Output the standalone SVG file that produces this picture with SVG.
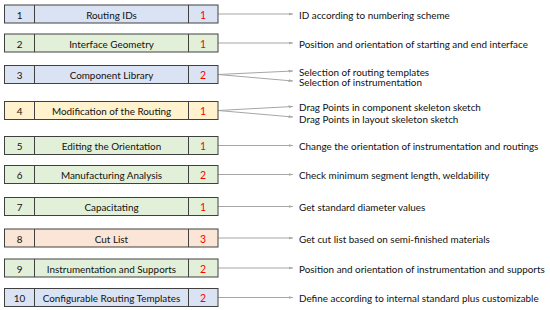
<svg xmlns="http://www.w3.org/2000/svg" width="550" height="310" viewBox="0 0 550 310">
<style>
.bx{stroke:#404040;stroke-width:1}
.blue{fill:#dae3f3}.green{fill:#e2f0d9}.yellow{fill:#fff2cc}.orange{fill:#fbe5d6}
.t{font-family:Lato,"Open Sans",sans-serif;font-size:9.9px;fill:#111;text-anchor:middle;dominant-baseline:central}
.n{font-family:Lato,"Open Sans",sans-serif;font-size:10.5px;fill:#ff0000;text-anchor:middle;dominant-baseline:central}
.d{font-family:Lato,"Open Sans",sans-serif;font-size:9.9px;fill:#111;dominant-baseline:central}
.c{stroke:#a6a6a6;stroke-width:1;fill:none;marker-end:url(#ah)}
</style>
<defs>
<marker id="ah" markerWidth="5" markerHeight="4" refX="4.5" refY="2" orient="auto" markerUnits="userSpaceOnUse">
<path d="M0,0.5 L4.5,2 L0,3.5 Z" fill="#a6a6a6"/>
</marker>
</defs>
<g id="connectors">
<line class="c" x1="218" y1="14" x2="293" y2="14"/>
<line class="c" x1="218" y1="43" x2="293" y2="43"/>
<line class="c" x1="218" y1="74.5" x2="293" y2="71"/>
<line class="c" x1="218" y1="74.5" x2="293" y2="81"/>
<line class="c" x1="218" y1="110.5" x2="293" y2="106.5"/>
<line class="c" x1="218" y1="110.5" x2="293" y2="117"/>
<line class="c" x1="218" y1="145.5" x2="293" y2="145.5"/>
<line class="c" x1="218" y1="174.5" x2="293" y2="174.5"/>
<line class="c" x1="218" y1="206.5" x2="293" y2="206.5"/>
<line class="c" x1="218" y1="238" x2="293" y2="238"/>
<line class="c" x1="218" y1="268" x2="293" y2="268"/>
<line class="c" x1="218" y1="297.5" x2="293" y2="297.5"/>
</g>
<g id="node1">
<rect class="bx blue" x="4.5" y="5" width="213.5" height="18"/>
<line class="bx" x1="34.5" y1="5" x2="34.5" y2="23"/><line class="bx" x1="188.5" y1="5" x2="188.5" y2="23"/>
<text class="t" x="19.5" y="14.5">1</text><text class="t" x="111.5" y="14.5">Routing IDs</text><text class="n" x="203" y="14.5">1</text>
<text class="d" x="299" y="14.5">ID according to numbering scheme</text>
</g>
<g id="node2">
<rect class="bx green" x="4.5" y="34" width="213.5" height="18"/>
<line class="bx" x1="34.5" y1="34" x2="34.5" y2="52"/><line class="bx" x1="188.5" y1="34" x2="188.5" y2="52"/>
<text class="t" x="19.5" y="43.5">2</text><text class="t" x="111.5" y="43.5">Interface Geometry</text><text class="n" x="203" y="43.5">1</text>
<text class="d" x="299" y="43.5">Position and orientation of starting and end interface</text>
</g>
<g id="node3">
<rect class="bx blue" x="4.5" y="65.5" width="213.5" height="18"/>
<line class="bx" x1="34.5" y1="65.5" x2="34.5" y2="83.5"/><line class="bx" x1="188.5" y1="65.5" x2="188.5" y2="83.5"/>
<text class="t" x="19.5" y="75">3</text><text class="t" x="111.5" y="75">Component Library</text><text class="n" x="203" y="75">2</text>
<text class="d" x="299" y="71.5">Selection of routing templates</text>
<text class="d" x="299" y="82">Selection of instrumentation</text>
</g>
<g id="node4">
<rect class="bx yellow" x="4.5" y="101.5" width="213.5" height="18"/>
<line class="bx" x1="34.5" y1="101.5" x2="34.5" y2="119.5"/><line class="bx" x1="188.5" y1="101.5" x2="188.5" y2="119.5"/>
<text class="t" x="19.5" y="111">4</text><text class="t" x="111.5" y="111">Modification of the Routing</text><text class="n" x="203" y="111">1</text>
<text class="d" x="299" y="107">Drag Points in component skeleton sketch</text>
<text class="d" x="299" y="118.5">Drag Points in layout skeleton sketch</text>
</g>
<g id="node5">
<rect class="bx green" x="4.5" y="136.5" width="213.5" height="18"/>
<line class="bx" x1="34.5" y1="136.5" x2="34.5" y2="154.5"/><line class="bx" x1="188.5" y1="136.5" x2="188.5" y2="154.5"/>
<text class="t" x="19.5" y="146">5</text><text class="t" x="111.5" y="146">Editing the Orientation</text><text class="n" x="203" y="146">1</text>
<text class="d" x="299" y="146">Change the orientation of instrumentation and routings</text>
</g>
<g id="node6">
<rect class="bx green" x="4.5" y="165.5" width="213.5" height="18"/>
<line class="bx" x1="34.5" y1="165.5" x2="34.5" y2="183.5"/><line class="bx" x1="188.5" y1="165.5" x2="188.5" y2="183.5"/>
<text class="t" x="19.5" y="175">6</text><text class="t" x="111.5" y="175">Manufacturing Analysis</text><text class="n" x="203" y="175">2</text>
<text class="d" x="299" y="175">Check minimum segment length, weldability</text>
</g>
<g id="node7">
<rect class="bx green" x="4.5" y="197.5" width="213.5" height="18"/>
<line class="bx" x1="34.5" y1="197.5" x2="34.5" y2="215.5"/><line class="bx" x1="188.5" y1="197.5" x2="188.5" y2="215.5"/>
<text class="t" x="19.5" y="207">7</text><text class="t" x="111.5" y="207">Capacitating</text><text class="n" x="203" y="207">1</text>
<text class="d" x="299" y="207">Get standard diameter values</text>
</g>
<g id="node8">
<rect class="bx orange" x="4.5" y="229" width="213.5" height="18"/>
<line class="bx" x1="34.5" y1="229" x2="34.5" y2="247"/><line class="bx" x1="188.5" y1="229" x2="188.5" y2="247"/>
<text class="t" x="19.5" y="238.5">8</text><text class="t" x="111.5" y="238.5">Cut List</text><text class="n" x="203" y="238.5">3</text>
<text class="d" x="299" y="238.5">Get cut list based on semi-finished materials</text>
</g>
<g id="node9">
<rect class="bx green" x="4.5" y="259" width="213.5" height="18"/>
<line class="bx" x1="34.5" y1="259" x2="34.5" y2="277"/><line class="bx" x1="188.5" y1="259" x2="188.5" y2="277"/>
<text class="t" x="19.5" y="268.5">9</text><text class="t" x="111.5" y="268.5">Instrumentation and Supports</text><text class="n" x="203" y="268.5">2</text>
<text class="d" x="299" y="268.5">Position and orientation of instrumentation and supports</text>
</g>
<g id="node10">
<rect class="bx blue" x="4.5" y="288.5" width="213.5" height="18"/>
<line class="bx" x1="34.5" y1="288.5" x2="34.5" y2="306.5"/><line class="bx" x1="188.5" y1="288.5" x2="188.5" y2="306.5"/>
<text class="t" x="19.5" y="298">10</text><text class="t" x="111.5" y="298">Configurable Routing Templates</text><text class="n" x="203" y="298">2</text>
<text class="d" x="299" y="298">Define according to internal standard plus customizable</text>
</g>
</svg>
